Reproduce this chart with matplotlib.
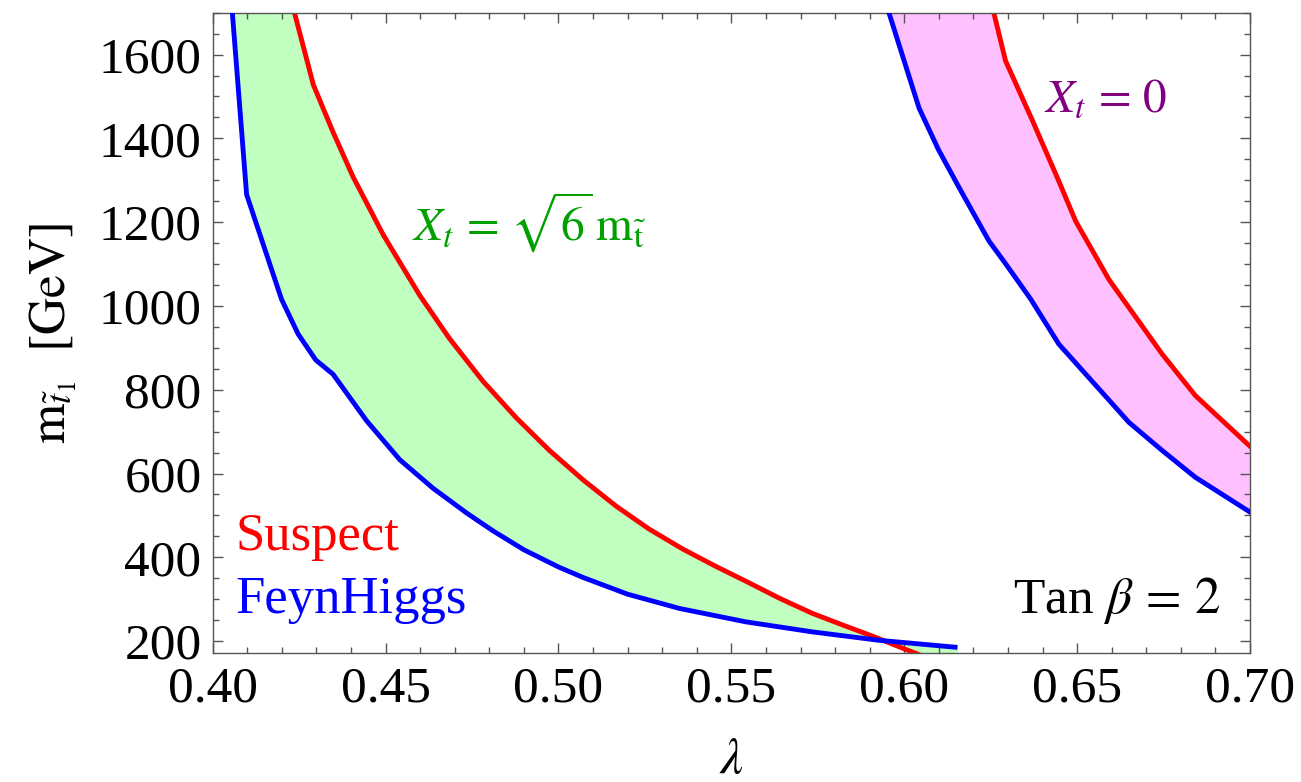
import numpy as np
import matplotlib
matplotlib.use('Agg')
import matplotlib.pyplot as plt
from matplotlib.ticker import MultipleLocator

plt.rcParams['font.family'] = ['Liberation Serif', 'DejaVu Serif']
plt.rcParams['mathtext.fontset'] = 'stix'

# Xt = sqrt(6) mt band
fh_sqrt6_lam = [0.4052, 0.4098, 0.4199, 0.4247, 0.4298, 0.4348, 0.4445, 0.4541, 0.4637, 0.4734,
                0.4811, 0.4900, 0.5000, 0.5071, 0.5200, 0.5350, 0.5542, 0.5735, 0.5927, 0.6154]
fh_sqrt6_m = [1750, 1266, 1016, 933, 871, 837, 726, 633, 565, 506,
              463, 418, 377, 352, 312, 278, 246, 222, 202, 185]
sus_sqrt6_lam = [0.4230, 0.4291, 0.4348, 0.4406, 0.4493, 0.4599, 0.4685, 0.4782, 0.4878, 0.4974,
                 0.5071, 0.5167, 0.5263, 0.5359, 0.5456, 0.5542, 0.5640, 0.5735, 0.5830, 0.5908,
                 0.6005, 0.6160]
sus_sqrt6_m = [1720, 1528, 1415, 1308, 1170, 1025, 922, 820, 733, 655,
               585, 522, 467, 420, 378, 343, 302, 266, 236, 212,
               180, 130]

# Xt = 0 band
fh_zero_lam = [0.5948, 0.6043, 0.6099, 0.6159, 0.6245, 0.6293, 0.6366, 0.6447, 0.6650, 0.6746, 0.6842, 0.7000]
fh_zero_m = [1720, 1472, 1373, 1282, 1155, 1101, 1016, 909, 722, 655, 591, 508]
sus_zero_lam = [0.6253, 0.6293, 0.6370, 0.6447, 0.6496, 0.6592, 0.6746, 0.6842, 0.7000]
sus_zero_m = [1720, 1585, 1444, 1298, 1202, 1063, 885, 786, 665]

fig = plt.figure(figsize=(13.01, 7.82), dpi=100)
ax = fig.add_axes([0.1635, 0.1646, 0.7973, 0.8192])

# bands: polygon = FeynHiggs curve + Suspect curve reversed
ax.fill(fh_sqrt6_lam + sus_sqrt6_lam[::-1], fh_sqrt6_m + sus_sqrt6_m[::-1],
        color='#c0ffc0', lw=0, zorder=1)
ax.fill(fh_zero_lam + sus_zero_lam[::-1], fh_zero_m + sus_zero_m[::-1],
        color='#ffc0ff', lw=0, zorder=1)

lw = 3.5
ax.plot(sus_sqrt6_lam, sus_sqrt6_m, color='#ff0000', lw=lw, zorder=2)
ax.plot(sus_zero_lam, sus_zero_m, color='#ff0000', lw=lw, zorder=2)
ax.plot(fh_sqrt6_lam, fh_sqrt6_m, color='#0000ff', lw=lw, zorder=3, solid_capstyle='butt')
ax.plot(fh_zero_lam, fh_zero_m, color='#0000ff', lw=lw, zorder=3)

ax.set_xlim(0.40, 0.70)
ax.set_ylim(171, 1700)
ax.xaxis.set_major_locator(MultipleLocator(0.05))
ax.xaxis.set_minor_locator(MultipleLocator(0.01))
ax.yaxis.set_major_locator(MultipleLocator(200))
ax.yaxis.set_minor_locator(MultipleLocator(50))
ax.xaxis.set_major_formatter(plt.FuncFormatter(lambda v, p: '%.2f' % v))

ax.tick_params(which='both', direction='in', top=True, right=True,
               color='#555555', width=1.0, labelsize=37)
ax.tick_params(which='major', length=7.5)
ax.tick_params(which='minor', length=4.5)
ax.tick_params(axis='x', pad=9)
ax.tick_params(axis='y', pad=8)
for s in ax.spines.values():
    s.set_color('#555555')
    s.set_linewidth(1.0)

ax.set_xlabel(r'$\lambda$', fontsize=37, labelpad=18)
ax.set_ylabel(r'$\mathrm{m}_{\tilde{t}_1}\ \ [\mathrm{GeV}]$', fontsize=37, labelpad=14)

# annotations
ax.text(0.4576, 1155, r'$X_t\,=\,\sqrt{6}\,\mathrm{m}_{\tilde{\mathrm{t}}}$', color='#00a000',
        fontsize=34, ha='left', va='baseline')
ax.text(0.6404, 1464, r'$X_t\,=\,0$', color='#800080', fontsize=34, ha='left', va='baseline')
ax.text(0.0215, 0.161, 'Suspect', color='#ff0000', fontsize=38, transform=ax.transAxes,
        ha='left', va='baseline')
ax.text(0.0215, 0.063, 'FeynHiggs', color='#0000ff', fontsize=38, transform=ax.transAxes,
        ha='left', va='baseline')
ax.text(0.971, 0.063, r'Tan $\beta\,=\,2$', color='black', fontsize=37, transform=ax.transAxes,
        ha='right', va='baseline')

fig.savefig('out.png', dpi=100)
